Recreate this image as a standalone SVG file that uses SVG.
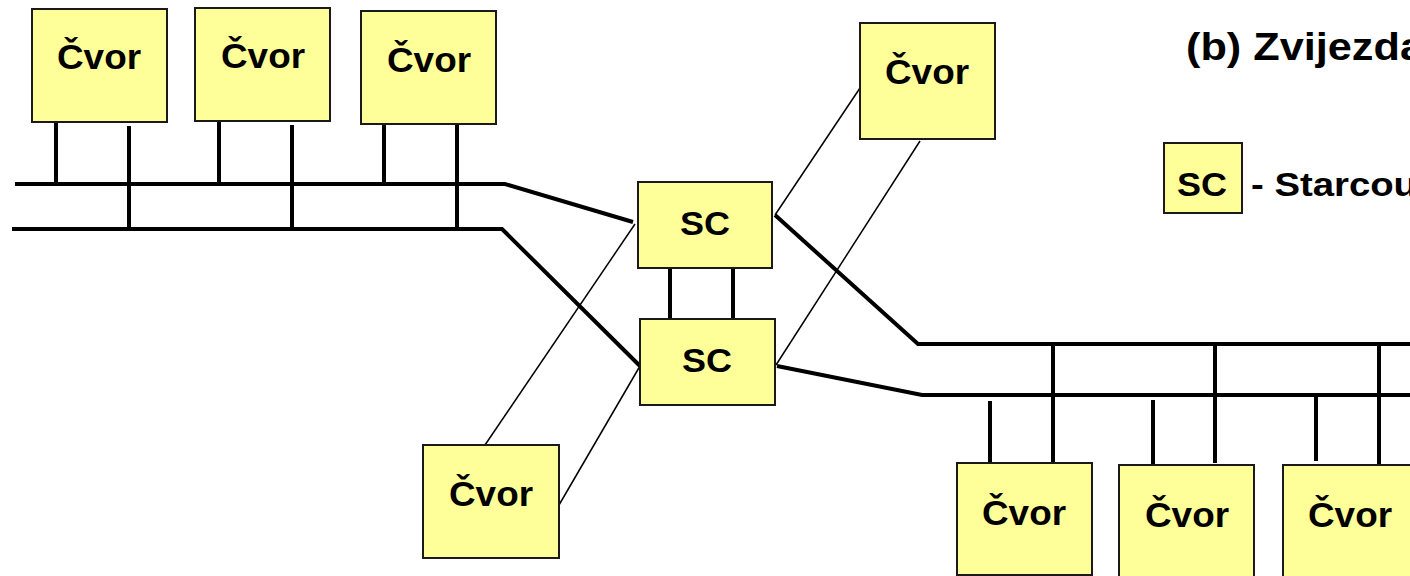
<svg xmlns="http://www.w3.org/2000/svg" width="1410" height="576" viewBox="0 0 1410 576">
<style>
.box{fill:#FFFF99;stroke:#1a1a1a;stroke-width:2}
.lbl{font-family:"Liberation Sans",Arial,sans-serif;font-weight:bold;font-size:35px;fill:#000;text-anchor:middle}
.sc{font-size:34px}
.thick{fill:none;stroke:#000;stroke-width:4;stroke-linejoin:miter}
.thin{fill:none;stroke:#000;stroke-width:1.5}
.txt{font-family:"Liberation Sans",Arial,sans-serif;font-weight:bold;fill:#000}
</style>
<rect width="1410" height="576" fill="#fff"/>
<g id="connectors">
<polyline class="thick" points="15,184 505,184 633,222"/>
<polyline class="thick" points="12,229 502,229 640,366"/>
<polyline class="thick" points="775,215 918,344 1412,344"/>
<polyline class="thick" points="777,366 922,395 1412,395"/>
<line class="thick" x1="670" y1="268" x2="670" y2="319"/>
<line class="thick" x1="733" y1="268" x2="733" y2="319"/>
<line class="thick" x1="56" y1="122" x2="56" y2="184"/>
<line class="thick" x1="129" y1="126" x2="129" y2="231"/>
<line class="thick" x1="219" y1="121" x2="219" y2="184"/>
<line class="thick" x1="292" y1="125" x2="292" y2="229"/>
<line class="thick" x1="384" y1="124" x2="384" y2="184"/>
<line class="thick" x1="457" y1="124" x2="457" y2="229"/>
<line class="thick" x1="990" y1="401" x2="990" y2="466"/>
<line class="thick" x1="1053" y1="344" x2="1053" y2="463"/>
<line class="thick" x1="1153" y1="400" x2="1153" y2="465"/>
<line class="thick" x1="1215" y1="344" x2="1215" y2="463"/>
<line class="thick" x1="1316" y1="397" x2="1316" y2="461"/>
<line class="thick" x1="1379" y1="344" x2="1379" y2="464"/>
<line class="thin" x1="775" y1="215" x2="860" y2="88"/>
<line class="thin" x1="920" y1="141" x2="776" y2="365"/>
<line class="thin" x1="635" y1="224" x2="485" y2="445"/>
<line class="thin" x1="640" y1="366" x2="559" y2="505"/>
</g>
<g id="node1"><rect class="box" x="32" y="9" width="135" height="113"/><text class="lbl" x="99" y="69" textLength="84" lengthAdjust="spacingAndGlyphs">Čvor</text></g>
<g id="node2"><rect class="box" x="195" y="8" width="135" height="113"/><text class="lbl" x="263" y="68" textLength="84" lengthAdjust="spacingAndGlyphs">Čvor</text></g>
<g id="node3"><rect class="box" x="361" y="11" width="135" height="113"/><text class="lbl" x="429" y="72" textLength="84" lengthAdjust="spacingAndGlyphs">Čvor</text></g>
<g id="node4"><rect class="box" x="860" y="23" width="135" height="116"/><text class="lbl" x="927" y="84" textLength="84" lengthAdjust="spacingAndGlyphs">Čvor</text></g>
<g id="sc1"><rect class="box" x="638" y="182" width="134" height="86"/><text class="lbl sc" x="705" y="235" textLength="50" lengthAdjust="spacingAndGlyphs">SC</text></g>
<g id="sc2"><rect class="box" x="640" y="319" width="135" height="86"/><text class="lbl sc" x="707" y="372" textLength="50" lengthAdjust="spacingAndGlyphs">SC</text></g>
<g id="node5"><rect class="box" x="423" y="445" width="136" height="113"/><text class="lbl" x="491" y="506" textLength="84" lengthAdjust="spacingAndGlyphs">Čvor</text></g>
<g id="node6"><rect class="box" x="957" y="463" width="135" height="112"/><text class="lbl" x="1024" y="525" textLength="84" lengthAdjust="spacingAndGlyphs">Čvor</text></g>
<g id="node7"><rect class="box" x="1119" y="465" width="135" height="120"/><text class="lbl" x="1187" y="527" textLength="84" lengthAdjust="spacingAndGlyphs">Čvor</text></g>
<g id="node8"><rect class="box" x="1283" y="465" width="135" height="120"/><text class="lbl" x="1350" y="527" textLength="84" lengthAdjust="spacingAndGlyphs">Čvor</text></g>
<g id="title"><text class="txt" x="1186" y="60" font-size="38" textLength="238" lengthAdjust="spacingAndGlyphs">(b) Zvijezda</text></g>
<g id="legend"><rect class="box" x="1164" y="143" width="78" height="70"/><text class="lbl sc" x="1202" y="196" textLength="50" lengthAdjust="spacingAndGlyphs">SC</text><text class="txt" x="1251" y="196" font-size="34" textLength="166" lengthAdjust="spacingAndGlyphs">- Starcou</text></g>
</svg>
